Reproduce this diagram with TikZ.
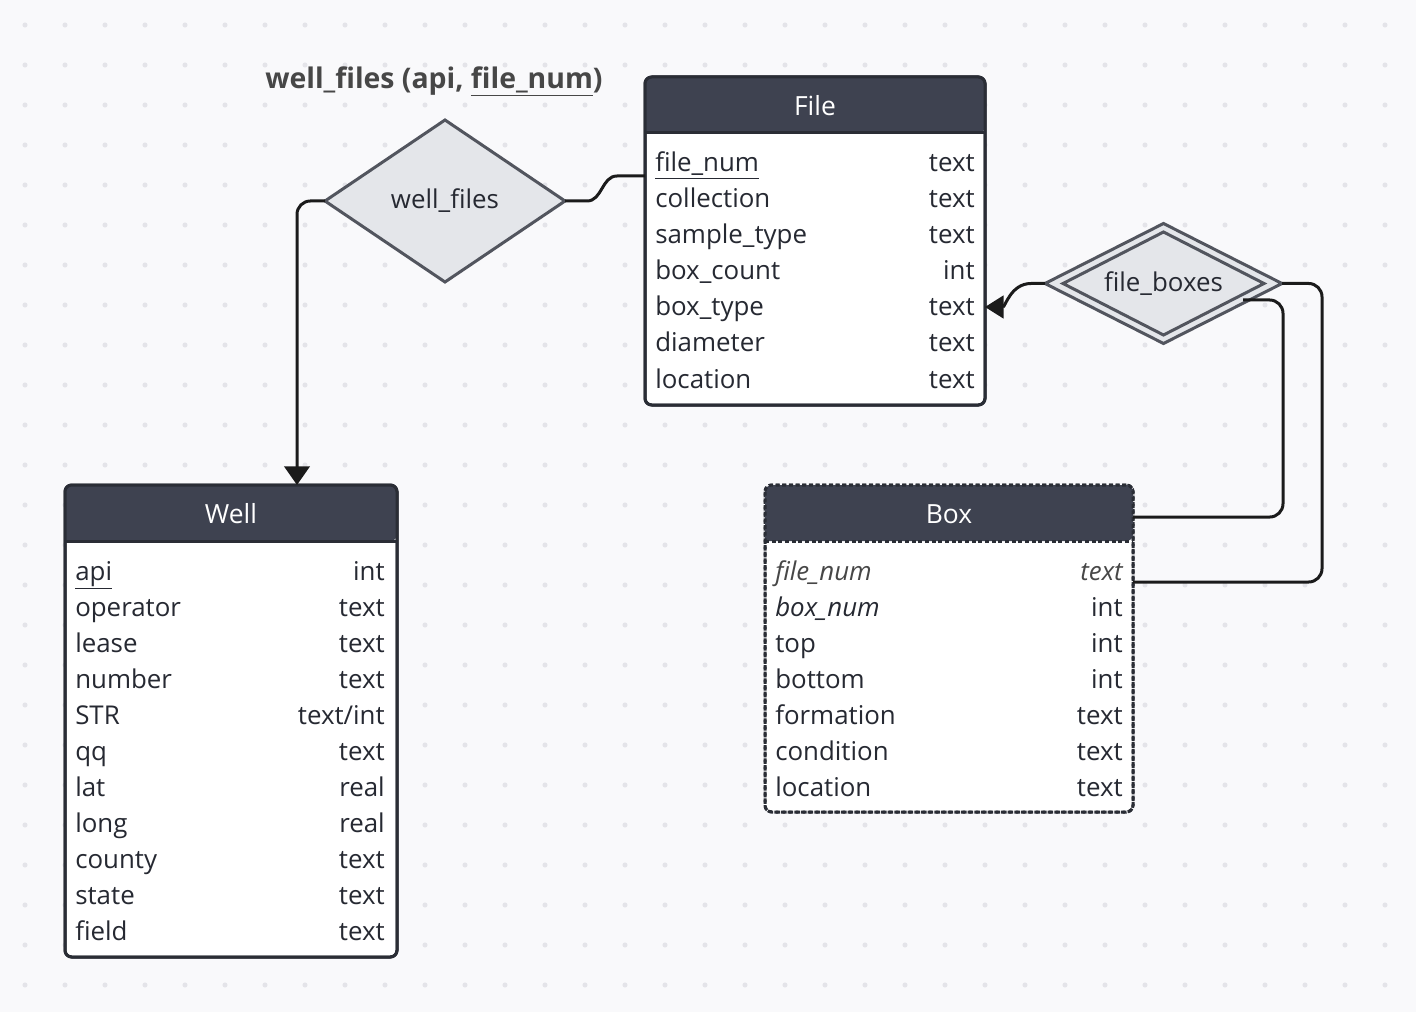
\documentclass[tikz,border=0pt]{standalone}
\usepackage{fontspec}
\setmainfont{Open Sans}
\usetikzlibrary{shapes.geometric,arrows.meta}

\definecolor{canvas}{HTML}{F9F9FB}
\definecolor{dotgrey}{HTML}{E4E4E9}
\definecolor{headbg}{HTML}{3E4250}
\definecolor{edge}{HTML}{2A2D35}
\definecolor{relbg}{HTML}{E4E6EA}
\definecolor{relline}{HTML}{52555E}
\definecolor{wire}{HTML}{1B1B1B}
\definecolor{ink}{HTML}{262932}
\definecolor{titleink}{HTML}{474747}

\tikzset{
  entity/.style={draw=edge, fill=white, line width=2.25pt, rounded corners=5pt, inner sep=0pt, outer sep=0pt},
  weak/.style={entity, dash pattern=on 3pt off 2pt},
  rel/.style={diamond, draw=relline, fill=relbg, line width=2.25pt, inner sep=0pt, outer sep=0pt},
  attr/.style={anchor=base west, inner sep=0pt, text=ink, yshift=-1.5pt},
  kind/.style={anchor=base east, inner sep=0pt, text=ink, yshift=-1.5pt},
  headtext/.style={anchor=base, inner sep=0pt, text=white, font=\fontsize{19.8}{23}\selectfont},
  conn/.style={draw=wire, line width=2.25pt},
}

\begin{document}
\begin{tikzpicture}[x=0.75pt,y=-0.75pt, every node/.style={font=\fontsize{19.4}{22}\selectfont}]
            \useasboundingbox (0,0) rectangle (1416,1012);
            \fill[canvas] (0,0) rectangle (1416,1012);
            \foreach \i in {0,...,34}
              \foreach \j in {0,...,24}
                \fill[dotgrey] (25+40*\i,25+40*\j) circle (1.9pt);

            % relationship label
            \node[anchor=base west, inner sep=0pt, text=titleink, font=\fontsize{21.3}{24}\selectfont\bfseries] (title) at (265,89) {well\_files (api, \underline{file\_num})};

            % File
            \node[entity, minimum width=255pt, minimum height=246pt] (file) at (815,241) {};
            \fill[headbg] (645,133) [rounded corners=5pt] -- (645,77) -- (985,77) -- (985,133) [sharp corners] -- cycle;
            \draw[edge, line width=2.25pt] (645,133) -- (985,133);
            \draw[edge, line width=2.25pt, rounded corners=5pt] (645,77) rectangle (985,405);
            \node[headtext] (filehead) at (815,116) {File};
            \node[attr] (f1) at (655,170) {\underline{file\_num}};
            \node[kind] (f1t) at (975,170) {text};
            \node[attr] (f2) at (655,206) {collection};
            \node[kind] (f2t) at (975,206) {text};
            \node[attr] (f3) at (655,242) {sample\_type};
            \node[kind] (f3t) at (975,242) {text};
            \node[attr] (f4) at (655,278) {box\_count};
            \node[kind] (f4t) at (975,278) {int};
            \node[attr] (f5) at (655,314) {box\_type};
            \node[kind] (f5t) at (975,314) {text};
            \node[attr] (f6) at (655,350) {diameter};
            \node[kind] (f6t) at (975,350) {text};
            \node[attr] (f7) at (655,386) {location};
            \node[kind] (f7t) at (975,386) {text};

            % Well
            \node[entity, minimum width=249pt, minimum height=354pt] (well) at (231,721) {};
            \fill[headbg] (65,541) [rounded corners=5pt] -- (65,485) -- (397,485) -- (397,541) [sharp corners] -- cycle;
            \draw[edge, line width=2.25pt] (65,541) -- (397,541);
            \draw[edge, line width=2.25pt, rounded corners=5pt] (65,485) rectangle (397,957);
            \node[headtext] (wellhead) at (231,523) {Well};
            \node[attr] (w1) at (75,578) {\underline{api}};
            \node[kind] (w1t) at (385,578) {int};
            \node[attr] (w2) at (75,614) {operator};
            \node[kind] (w2t) at (385,614) {text};
            \node[attr] (w3) at (75,650) {lease};
            \node[kind] (w3t) at (385,650) {text};
            \node[attr] (w4) at (75,686) {number};
            \node[kind] (w4t) at (385,686) {text};
            \node[attr] (w5) at (75,722) {STR};
            \node[kind] (w5t) at (385,722) {text/int};
            \node[attr] (w6) at (75,758) {qq};
            \node[kind] (w6t) at (385,758) {text};
            \node[attr] (w7) at (75,794) {lat};
            \node[kind] (w7t) at (385,794) {real};
            \node[attr] (w8) at (75,830) {long};
            \node[kind] (w8t) at (385,830) {real};
            \node[attr] (w9) at (75,866) {county};
            \node[kind] (w9t) at (385,866) {text};
            \node[attr] (w10) at (75,902) {state};
            \node[kind] (w10t) at (385,902) {text};
            \node[attr] (w11) at (75,938) {field};
            \node[kind] (w11t) at (385,938) {text};

            % Box (weak entity)
            \node[weak, minimum width=276pt, minimum height=245.25pt] (box) at (949,648.5) {};
            \fill[headbg] (765,541) [rounded corners=5pt] -- (765,485) -- (1133,485) -- (1133,541) [sharp corners] -- cycle;
            \draw[edge, line width=2.25pt, dash pattern=on 3pt off 2pt] (765,541) -- (1133,541);
            \draw[edge, line width=2.25pt, dash pattern=on 3pt off 2pt, rounded corners=5pt] (765,485) rectangle (1133,812);
            \node[headtext] (boxhead) at (949,523) {Box};
            \node[attr, text=titleink] (b1) at (775,578) {\itshape file\_num};
            \node[kind, text=titleink] (b1t) at (1123,578) {\itshape text};
            \node[attr] (b2) at (775,614) {\itshape box\_num};
            \node[kind] (b2t) at (1123,614) {int};
            \node[attr] (b3) at (775,650) {top};
            \node[kind] (b3t) at (1123,650) {int};
            \node[attr] (b4) at (775,686) {bottom};
            \node[kind] (b4t) at (1123,686) {int};
            \node[attr] (b5) at (775,722) {formation};
            \node[kind] (b5t) at (1123,722) {text};
            \node[attr] (b6) at (775,758) {condition};
            \node[kind] (b6t) at (1123,758) {text};
            \node[attr] (b7) at (775,794) {location};
            \node[kind] (b7t) at (1123,794) {text};

            % relationships
            \node[rel, aspect=1.48, minimum width=180pt, minimum height=121.5pt, text=ink] (wf) at (445,201) {well\_files};
            \node[rel, aspect=1.975, minimum width=177.75pt, minimum height=90pt] (fb) at (1163.5,283.5) {};
            \node[rel, aspect=1.95, fill=none, minimum width=150.75pt, minimum height=77.25pt, text=ink] (fbin) at (1163.5,283.5) {file\_boxes};
            \coordinate (fbout) at (1243,300);

            % connectors
            \draw[conn, rounded corners=10pt, -{Triangle[length=14pt,width=19pt]}] (wf.west) -| ([xshift=49.5pt]well.north);
            \draw[conn] (wf.east) -- ++(22,0) to[out=0,in=180] ++(30,-25) -- ([yshift=48.75pt]file.west);
            \draw[conn, -{Triangle[length=14pt,width=17pt]}] (fb.west) -- ++(-14,0) to[out=180,in=0] ([yshift=-49.5pt]file.east);
            \draw[conn, rounded corners=10pt] (fb.east) -- ++(40,0) |- ([yshift=49.875pt]box.east);
            \draw[conn, rounded corners=10pt] (fbout) -- ++(40,0) |- ([yshift=98.6pt]box.east);
        \end{tikzpicture}
\end{document}
